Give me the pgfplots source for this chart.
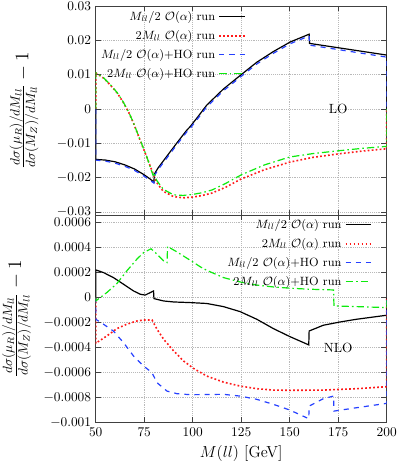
\documentclass[border=0pt]{standalone}
\usepackage{pgfplots}
\pgfplotsset{compat=1.18}
\definecolor{myred}{rgb}{1,0.1,0.1}
\definecolor{myblue}{rgb}{0.15,0.25,1}
\definecolor{mygreen}{rgb}{0.05,0.92,0.05}
\begin{document}
\begin{tikzpicture}
\path[use as bounding box] (-71.8pt,4.5pt) rectangle (226.5pt,-350.25pt);
\pgfplotsset{
  myax/.style={
    width=218.25pt, scale only axis,
    xmin=50, xmax=200, xtick={50,75,100,125,150,175,200},
    grid=major, grid style={gray!55, densely dotted, line width=0.4pt},
    axis line style={black!75, line width=0.6pt},
    tick style={black!75, line width=0.5pt},
    tick align=inside, major tick length=4pt,
    scaled y ticks=false,
    tick label style={font=\fontsize{10}{12}\selectfont},
    xlabel style={font=\fontsize{12}{14}\selectfont},
    ylabel style={font=\fontsize{14.5}{17}\selectfont},
    legend cell align=right,
    legend plot pos=right,
    legend image code/.code={\path (0pt,0pt); \draw[##1] (0.5pt,0pt) -- (19.5pt,0pt);},
    legend style={draw=none, fill=none, font=\fontsize{9}{10.5}\selectfont,
      row sep=2pt, inner sep=1pt},
    every axis plot/.append style={line width=0.9pt},
  },
  sblack/.style={black, solid},
  sred/.style={myred, line width=1.2pt, dash pattern=on 1.3pt off 1.7pt},
  sblue/.style={myblue, dash pattern=on 3.8pt off 3.8pt},
  sgreen/.style={mygreen, dash pattern=on 5.5pt off 2.3pt on 1.2pt off 2.3pt},
}
\begin{axis}[myax, name=top, at={(0,0)}, anchor=north west,
  height=156.75pt,
  ymin=-0.0309, ymax=0.03,
  ytick={-0.03,-0.02,-0.01,0,0.01,0.02,0.03},
  yticklabel style={/pgf/number format/.cd, fixed, precision=3},
  xticklabels={},
  ylabel={$\frac{d\sigma(\mu_R)/dM_{ll}}{d\sigma(M_Z)/dM_{ll}}-1$},
  ylabel style={at={(axis description cs:-0.2465,0.5)}, anchor=center},
  legend style={at={(axis description cs:0.52,0.995)}, anchor=north east},
]
\addplot[sblack] coordinates {(50,0) (50,-0.0147) (55,-0.0149) (60,-0.0154) (65,-0.0163) (70,-0.0175) (75,-0.0192) (78,-0.0204) (80,-0.0213) (80.2,-0.0190) (82,-0.0173) (86.5,-0.0139) (91.7,-0.0100) (96.9,-0.0062) (98.6,-0.0052) (102.9,-0.0021) (107.2,0.0011) (115.8,0.0058) (125,0.0100) (133,0.0136) (141.5,0.0167) (150.2,0.0195) (158.8,0.0215) (160,0.0218) (160.2,0.0191) (200,0.0157) (200,0)};
\addlegendentry{$M_{ll}/2$ $\mathcal{O}(\alpha)$ run}
\addplot[sred] coordinates {(50,0) (50,0.0105) (54,0.0090) (57.5,0.0070) (61,0.0047) (64,0.0021) (67,-0.0010) (69.5,-0.0042) (72.8,-0.0090) (76.3,-0.0140) (79,-0.0180) (81.4,-0.0214) (84.8,-0.0240) (90,-0.0255) (95,-0.0259) (100,-0.0257) (105,-0.0252) (110,-0.0245) (117,-0.0228) (125,-0.0204) (137,-0.0177) (150,-0.0155) (162,-0.0141) (175,-0.0131) (187,-0.0123) (200,-0.0116) (200,0)};
\addlegendentry{$2M_{ll}$ $\mathcal{O}(\alpha)$ run}
\addplot[sblue] coordinates {(50,0) (50,-0.0149) (55,-0.0152) (60,-0.0158) (65,-0.0167) (70,-0.0179) (75,-0.0196) (78,-0.0208) (80,-0.0216) (80.2,-0.0195) (82,-0.0178) (86.5,-0.0144) (91.7,-0.0105) (96.9,-0.0067) (98.6,-0.0057) (102.9,-0.0026) (107.2,0.0006) (115.8,0.0053) (125,0.0095) (133,0.0131) (141.5,0.0162) (150.2,0.0190) (158.8,0.0210) (160,0.0213) (160.2,0.0186) (200,0.0151) (200,0)};
\addlegendentry{$M_{ll}/2$ $\mathcal{O}(\alpha)$+HO run}
\addplot[sgreen] coordinates {(50,0) (50,0.0106) (54,0.0091) (57.5,0.0071) (61,0.0048) (64,0.0022) (67,-0.0009) (69.5,-0.0041) (72.8,-0.0089) (76.3,-0.0139) (78.9,-0.0183) (79.5,-0.0193) (80,-0.0185) (81.4,-0.0208) (84.8,-0.0234) (90,-0.0250) (95,-0.0252) (100,-0.0249) (105,-0.0244) (110,-0.0236) (117,-0.0217) (125,-0.0192) (137,-0.0163) (150,-0.0140) (162,-0.0130) (175,-0.0122) (187,-0.0115) (200,-0.0109) (200,0)};
\addlegendentry{$2M_{ll}$ $\mathcal{O}(\alpha)$+HO run}
\node[font=\fontsize{10}{12}\selectfont] at (axis cs:175,0) {LO};
\end{axis}
\begin{axis}[myax, name=bot, at={(top.south west)}, anchor=north west,
  height=155.8pt,
  ymin=-0.001, ymax=0.00066,
  ytick={-0.001,-0.0008,-0.0006,-0.0004,-0.0002,0,0.0002,0.0004,0.0006},
  yticklabel style={/pgf/number format/.cd, fixed, precision=4},
  xlabel={$M(ll)$ [GeV]},
  ylabel={$\frac{d\sigma(\mu_R)/dM_{ll}}{d\sigma(M_Z)/dM_{ll}}-1$},
  ylabel style={at={(axis description cs:-0.272,0.5)}, anchor=center},
  legend style={at={(axis description cs:0.954,1.0)}, anchor=north east},
]
\addplot[sblack] coordinates {(50,0) (50,0.000221) (54,0.0002) (59.1,0.00016) (64.3,0.000107) (69.5,0.000053) (72.9,0.000027) (75.5,0.00002) (78.1,0.00004) (79.8,0.000053) (80,-0.000008) (85,-0.000027) (90.2,-0.000035) (98.8,-0.00004) (107.2,-0.000047) (115.8,-0.000072) (124.4,-0.000112) (133,-0.000173) (141.6,-0.000248) (150.1,-0.000312) (159.8,-0.000378) (160,-0.000267) (167.3,-0.000221) (175.9,-0.000195) (184.5,-0.000173) (200,-0.000141) (200,0)};
\addlegendentry{$M_{ll}/2$ $\mathcal{O}(\alpha)$ run}
\addplot[sred] coordinates {(50,0) (50,-0.000365) (55.7,-0.000307) (60.9,-0.000248) (66,-0.000213) (71.2,-0.000187) (74.7,-0.000179) (79,-0.000179) (81.6,-0.000253) (85,-0.000333) (90.2,-0.000427) (95.3,-0.000507) (100.5,-0.000567) (104,-0.000598) (107.2,-0.000627) (115.8,-0.000675) (124.4,-0.000707) (133,-0.000728) (141.6,-0.000739) (150.1,-0.000741) (167.3,-0.000739) (184.5,-0.000728) (200,-0.000712) (200,0)};
\addlegendentry{$2M_{ll}$ $\mathcal{O}(\alpha)$ run}
\addplot[sblue] coordinates {(50,0) (50,-0.000173) (54,-0.000213) (59.1,-0.000267) (64.3,-0.00036) (69.5,-0.000467) (74.7,-0.000547) (79,-0.0006) (81.6,-0.00068) (86.7,-0.000747) (91.9,-0.000768) (98.8,-0.000776) (115.8,-0.000773) (124.4,-0.000787) (133,-0.000813) (141.6,-0.000853) (150.1,-0.000899) (159.8,-0.000968) (160,-0.000867) (167.3,-0.000808) (172.6,-0.000787) (172.8,-0.000907) (184.5,-0.00088) (200,-0.000845) (200,0)};
\addlegendentry{$M_{ll}/2$ $\mathcal{O}(\alpha)$+HO run}
\addplot[sgreen] coordinates {(50,0) (50,-0.000027) (55.7,0.00004) (60.9,0.000112) (66,0.000213) (71.2,0.000307) (74.7,0.00036) (78.5,0.00039) (81.6,0.000347) (85,0.000293) (86.8,0.00028) (87,0.000408) (91.9,0.000365) (98.8,0.000297) (104,0.000245) (107.2,0.000218) (115.8,0.00016) (124.4,0.000125) (133,0.0001) (141.6,0.000085) (150.1,0.000075) (160,0.000067) (172.6,0.000061) (172.8,-0.000067) (184.5,-0.000072) (200,-0.00008) (200,0)};
\addlegendentry{$2M_{ll}$ $\mathcal{O}(\alpha)$+HO run}
\node[font=\fontsize{10}{12}\selectfont] at (axis cs:175,-0.0004) {NLO};
\end{axis}
\end{tikzpicture}
\end{document}
